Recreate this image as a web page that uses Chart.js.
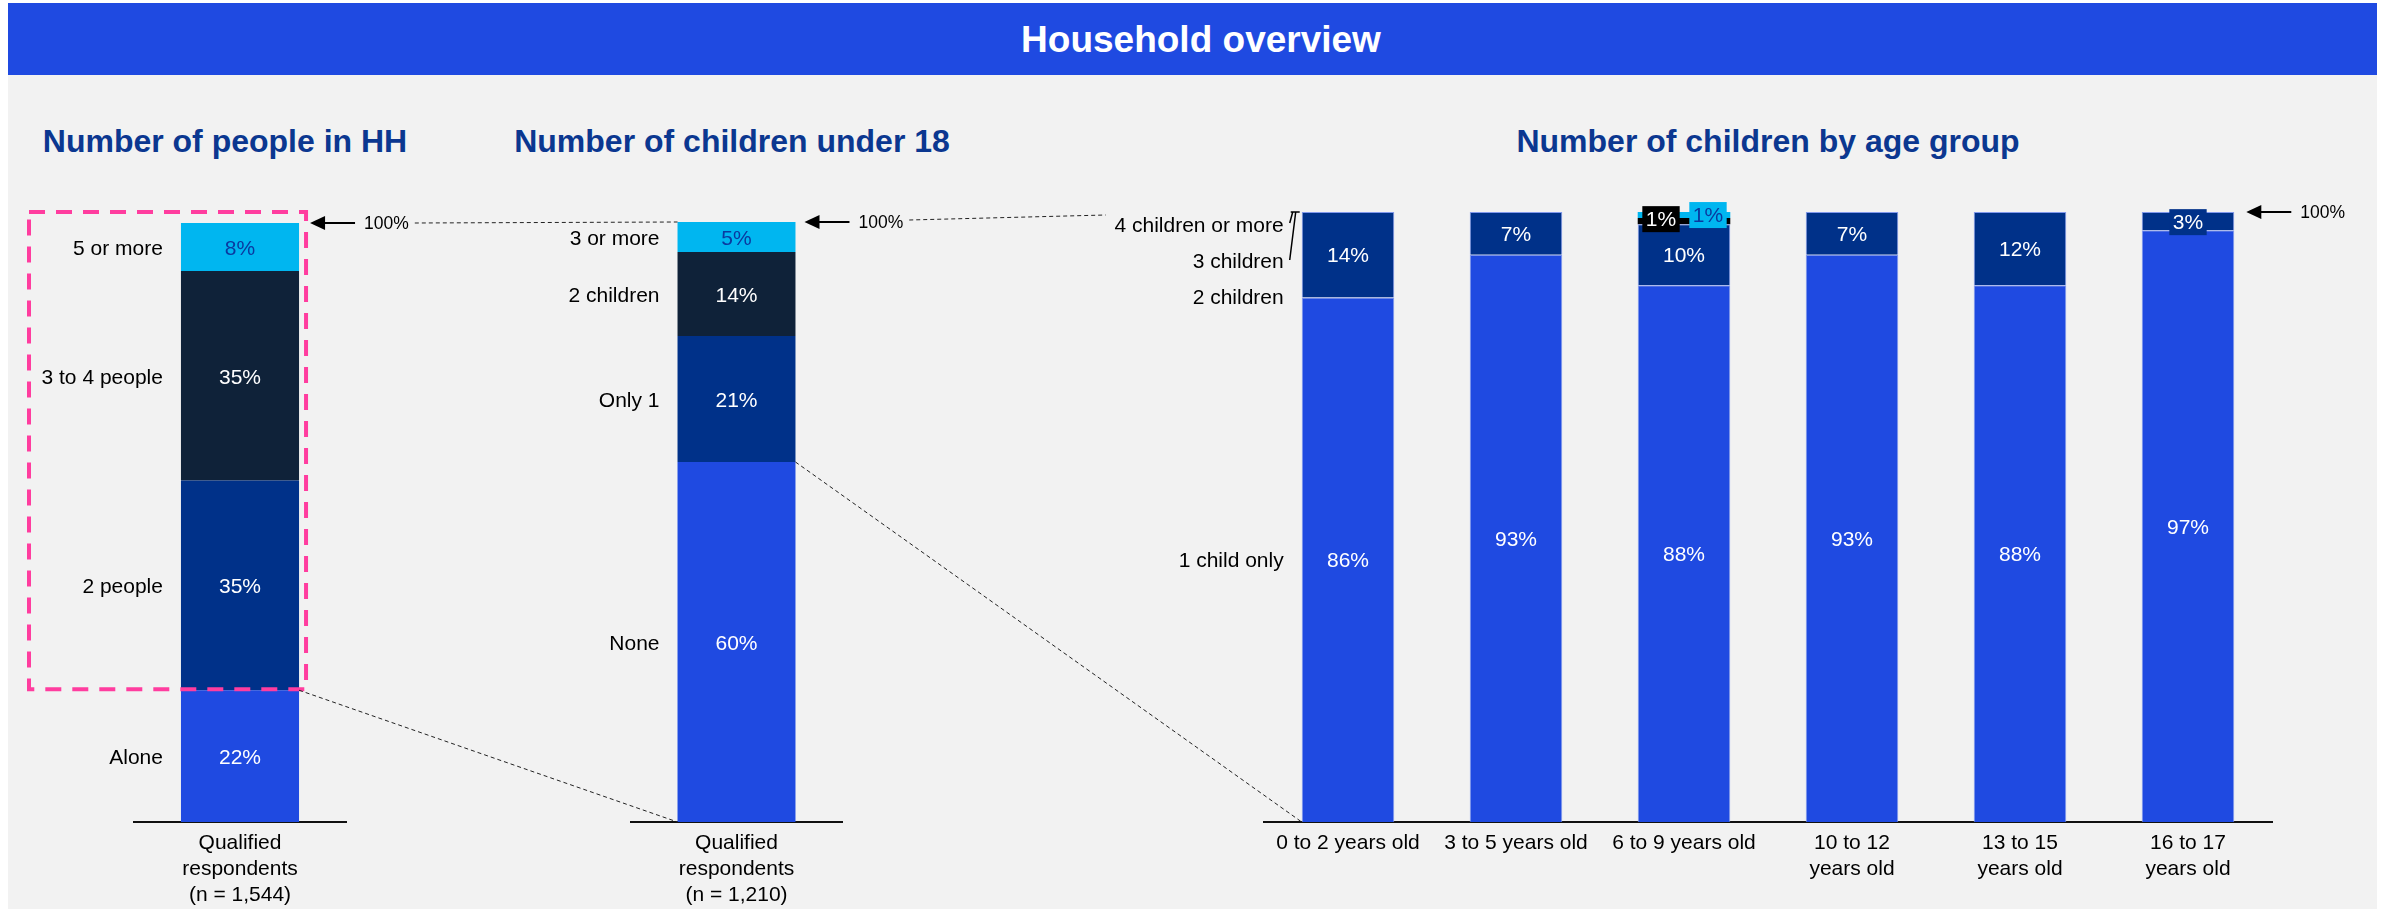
<!DOCTYPE html>
<html>
<head>
<meta charset="utf-8">
<title>Household overview</title>
<script src="https://cdn.jsdelivr.net/npm/chart.js@4.4.1/dist/chart.umd.min.js"></script>
<style>
  html, body { margin: 0; padding: 0; background: #ffffff; width: 2392px; height: 911px; overflow: hidden;
               font-family: "Liberation Sans", Arial, sans-serif; }
  #stage { position: relative; width: 2392px; height: 911px; }
  #header { position: absolute; left: 8px; top: 3px; width: 2369px; height: 72px; background: #1f4ae1; }
  #header span { position: absolute; left: 1193px; top: 37px; transform: translate(-50%, -50%);
                 color: #ffffff; font-weight: bold; font-size: 37px; white-space: nowrap; }
  #panel { position: absolute; left: 8px; top: 75px; width: 2369px; height: 834px; background: #f2f2f2; }
  .ptitle { position: absolute; top: 141px; transform: translate(-50%, -50%); color: #0b3790;
            font-weight: bold; font-size: 32px; white-space: nowrap; }
  canvas { position: absolute; }
  #overlay { left: 0; top: 0; pointer-events: none; }
</style>
</head>
<body>
<div id="stage">
  <div id="header"><span>Household overview</span></div>
  <div id="panel"></div>
  <div class="ptitle" style="left:225px">Number of people in HH</div>
  <div class="ptitle" style="left:732px">Number of children under 18</div>
  <div class="ptitle" style="left:1768px">Number of children by age group</div>
  <canvas id="hhChart" width="480" height="731" style="left:0px;top:180px"></canvas>
  <canvas id="kidsChart" width="480" height="731" style="left:480px;top:180px"></canvas>
  <canvas id="ageChart" width="1392" height="731" style="left:1000px;top:180px"></canvas>
  <canvas id="overlay" width="2392" height="911"></canvas>
</div>
<script>
// ---- Number of people in household (share of qualified respondents, %) ----
const hhCategories = [['Qualified', 'respondents', '(n = 1,544)']];
const hhSeriesNames = ['Alone', '2 people', '3 to 4 people', '5 or more'];
const hhAlone = [22];
const hhTwoPeople = [35];
const hhThreeToFour = [35];
const hhFivePlus = [8];

// ---- Number of children under 18 (%) ----
const kidsCategories = [['Qualified', 'respondents', '(n = 1,210)']];
const kidsSeriesNames = ['None', 'Only 1', '2 children', '3 or more'];
const kidsNone = [60];
const kidsOnlyOne = [21];
const kidsTwo = [14];
const kidsThreePlus = [5];

// ---- Number of children by age group (%) ----
const ageCategories = ['0 to 2 years old', '3 to 5 years old', '6 to 9 years old',
                       ['10 to 12', 'years old'], ['13 to 15', 'years old'], ['16 to 17', 'years old']];
const ageSeriesNames = ['1 child only', '2 children', '3 children', '4 children or more'];
const ageOneChild = [86, 93, 88, 93, 88, 97];
const ageTwoChildren = [14, 7, 10, 7, 12, 3];
const ageThreeChildren = [0, 0, 1, 0, 0, 0];
const ageFourPlus = [0, 0, 1, 0, 0, 0];

const FONT = '"Liberation Sans", Arial, sans-serif';
const ROYAL = '#1f4ae1', DARK = '#003189', NAVY = '#0f2239', LIGHT = '#00b6f0', BLACK = '#000000';
const LIGHT_TEXT = '#0a3aa0';

// In-bar percentage labels plus the series names written left of the first bar
const segmentLabels = {
  id: 'segmentLabels',
  afterDatasetsDraw(chart, args, opts) {
    const ctx = chart.ctx;
    ctx.save();
    ctx.font = '21px ' + FONT;
    ctx.textBaseline = 'middle';
    chart.data.datasets.forEach((ds, di) => {
      const meta = chart.getDatasetMeta(di);
      meta.data.forEach((bar, i) => {
        const v = ds.data[i];
        if (!v) return;
        const txt = v + '%';
        const h = Math.abs(bar.base - bar.y);
        let x = bar.x, y = (bar.y + bar.base) / 2 + 1;
        ctx.textAlign = 'center';
        if (h < 20) {
          const s = ds.labelShift || { dx: 0, dy: 0 };
          x += s.dx; y += s.dy;
          const w = ctx.measureText(txt).width + 7;
          ctx.fillStyle = ds.backgroundColor;
          ctx.fillRect(x - w / 2, y - 13, w, 26);
        }
        ctx.fillStyle = ds.labelColor || '#ffffff';
        ctx.fillText(txt, x, y + 1);
      });
    });
    // series names, right-aligned beside the first bar
    const base0 = chart.getDatasetMeta(0).data[0];
    const xRight = base0.x - base0.width / 2 - 18;
    ctx.textAlign = 'right';
    ctx.fillStyle = '#000000';
    chart.data.datasets.forEach((ds, di) => {
      const bar = chart.getDatasetMeta(di).data[0];
      let y;
      if (opts.mode === 'stepped' && di > 0) {
        y = base0.y + 1 - (di - 1) * 36;
      } else {
        y = (bar.y + bar.base) / 2 + 2;
      }
      ctx.fillText(ds.label, xRight, y);
    });
    ctx.restore();
  }
};

function makeChart(id, labels, datasets, cfg) {
  return new Chart(document.getElementById(id), {
    type: 'bar',
    data: { labels, datasets },
    options: {
      responsive: false,
      animation: false,
      devicePixelRatio: 1,
      layout: { padding: { left: cfg.padL, right: cfg.padR, top: cfg.padT, bottom: 0 } },
      plugins: { legend: { display: false }, tooltip: { enabled: false }, segmentLabels: { mode: cfg.mode } },
      datasets: { bar: { barPercentage: cfg.barPct, categoryPercentage: 1 } },
      scales: {
        x: {
          stacked: true,
          grid: { display: false, drawTicks: false, tickLength: 0 },
          border: { display: true, color: '#111111', width: 2 },
          ticks: { color: '#000000', padding: 8, autoSkip: false, maxRotation: 0,
                   font: { family: FONT, size: 21, lineHeight: 1.24 } },
          afterFit(scale) { scale.height = 89; }
        },
        y: { stacked: true, display: false, min: 0, max: 100 }
      }
    },
    plugins: [segmentLabels]
  });
}

function seg(label, data, color, textColor, extra) {
  return Object.assign({ label, data, backgroundColor: color, labelColor: textColor, borderWidth: 0 }, extra || {});
}

const hhChart = makeChart('hhChart', hhCategories, [
  seg(hhSeriesNames[0], hhAlone, ROYAL, '#ffffff'),
  seg(hhSeriesNames[1], hhTwoPeople, DARK, '#ffffff'),
  seg(hhSeriesNames[2], hhThreeToFour, NAVY, '#ffffff'),
  seg(hhSeriesNames[3], hhFivePlus, LIGHT, LIGHT_TEXT)
], { padL: 134, padR: 134, padT: 43, barPct: 0.557, mode: 'center' });

const kidsChart = makeChart('kidsChart', kidsCategories, [
  seg(kidsSeriesNames[0], kidsNone, ROYAL, '#ffffff'),
  seg(kidsSeriesNames[1], kidsOnlyOne, DARK, '#ffffff'),
  seg(kidsSeriesNames[2], kidsTwo, NAVY, '#ffffff'),
  seg(kidsSeriesNames[3], kidsThreePlus, LIGHT, LIGHT_TEXT)
], { padL: 151, padR: 118, padT: 42, barPct: 0.559, mode: 'center' });

const edge = { borderWidth: 1, borderColor: '#8299ec' };
const ageChart = makeChart('ageChart', ageCategories, [
  seg(ageSeriesNames[0], ageOneChild, ROYAL, '#ffffff', edge),
  seg(ageSeriesNames[1], ageTwoChildren, DARK, '#ffffff', edge),
  seg(ageSeriesNames[2], ageThreeChildren, BLACK, '#ffffff', { labelShift: { dx: -23, dy: -3 } }),
  seg(ageSeriesNames[3], ageFourPlus, LIGHT, LIGHT_TEXT, { labelShift: { dx: 24, dy: -1 } })
], { padL: 264, padR: 120, padT: 32, barPct: 0.551, mode: 'stepped' });

// ---- Connectors, 100% markers and the highlight frame, placed from the charts' own geometry ----
function barBox(chart, di, i) {
  const el = chart.getDatasetMeta(di).data[i];
  const ox = chart.canvas.offsetLeft, oy = chart.canvas.offsetTop;
  return { left: ox + el.x - el.width / 2, right: ox + el.x + el.width / 2,
           top: oy + el.y, base: oy + el.base };
}
function topOf(chart) { return chart.canvas.offsetTop + chart.scales.y.getPixelForValue(100); }

const ov = document.getElementById('overlay').getContext('2d');
function dashed(x1, y1, x2, y2) {
  ov.save();
  ov.setLineDash([4, 3]);
  ov.strokeStyle = '#222222';
  ov.lineWidth = 1;
  ov.beginPath(); ov.moveTo(x1, y1); ov.lineTo(x2, y2); ov.stroke();
  ov.restore();
}
function marker(tipX, y) {
  ov.save();
  ov.strokeStyle = '#000000'; ov.fillStyle = '#000000'; ov.lineWidth = 2;
  ov.beginPath(); ov.moveTo(tipX + 12, y); ov.lineTo(tipX + 45, y); ov.stroke();
  ov.beginPath(); ov.moveTo(tipX, y); ov.lineTo(tipX + 15, y - 7); ov.lineTo(tipX + 15, y + 7); ov.closePath(); ov.fill();
  ov.font = '17.5px ' + FONT; ov.textBaseline = 'middle'; ov.textAlign = 'left';
  ov.fillText('100%', tipX + 54, y + 1);
  const end = tipX + 54 + ov.measureText('100%').width;
  ov.restore();
  return end;
}

const hhAloneBox = barBox(hhChart, 0, 0);
const kidsNoneBox = barBox(kidsChart, 0, 0);
const ageFirst = barBox(ageChart, 0, 0);
const ageLast = barBox(ageChart, 0, ageOneChild.length - 1);
const hhTop = topOf(hhChart), kidsTop = topOf(kidsChart), ageTop = topOf(ageChart);

// highlight frame around the multi-person households
ov.save();
ov.setLineDash([16, 11]);
ov.strokeStyle = '#ff3d9f';
ov.lineWidth = 4;
ov.strokeRect(hhChart.chartArea.left - 105, hhTop - 11,
              hhAloneBox.right + 7 - (hhChart.chartArea.left - 105), hhAloneBox.top - 1 - (hhTop - 11));
ov.restore();

// zoom connectors from one breakdown to the next
dashed(hhAloneBox.right, hhAloneBox.top, kidsNoneBox.left, kidsNoneBox.base);
dashed(kidsNoneBox.right, kidsNoneBox.top, ageFirst.left, ageFirst.base);

// 100% markers
const end1 = marker(hhAloneBox.right + 11, hhTop);
dashed(end1 + 6, hhTop, kidsNoneBox.left, kidsTop);
const end2 = marker(kidsNoneBox.right + 9, kidsTop);
dashed(end2 + 6, kidsTop - 2, ageFirst.left - 196, ageTop + 3);
marker(ageLast.right + 12, ageTop);

// leader strokes tying the two smallest series names to the top of the stack
ov.save();
ov.strokeStyle = '#000000'; ov.lineWidth = 1.5;
ov.beginPath();
ov.moveTo(ageFirst.left - 12, ageTop + 11); ov.lineTo(ageFirst.left - 9, ageTop);
ov.moveTo(ageFirst.left - 12, ageTop + 48); ov.lineTo(ageFirst.left - 6, ageTop);
ov.moveTo(ageFirst.left - 11, ageTop); ov.lineTo(ageFirst.left - 2, ageTop);
ov.stroke();
ov.restore();
</script>
</body>
</html>
